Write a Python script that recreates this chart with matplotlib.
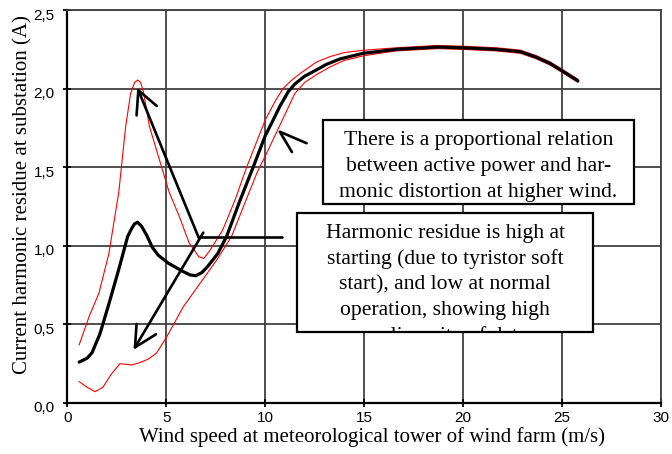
import matplotlib
matplotlib.use("Agg")
import matplotlib.pyplot as plt
from matplotlib.patches import Rectangle
from matplotlib.ticker import FuncFormatter
import matplotlib.transforms as mtransforms

# Mean harmonic current residue vs wind speed
mean_x = [0.6, 1.0, 1.25, 1.65, 2.1, 2.6, 3.05, 3.25, 3.4, 3.55, 3.75, 4.0, 4.3, 4.6, 5.1,
          5.8, 6.2, 6.5, 6.8, 7.1, 7.6, 8.05, 8.7, 9.39, 10.0, 10.4, 10.75, 11.16, 11.5,
          12.0, 12.6, 13.1, 13.8, 14.95, 16.6, 18.7, 20.0, 21.7, 22.9, 23.7, 24.4, 25.05, 25.8]
mean_y = [0.26, 0.285, 0.32, 0.44, 0.63, 0.85, 1.06, 1.11, 1.14, 1.15, 1.125, 1.07, 0.99, 0.94, 0.89,
          0.84, 0.815, 0.81, 0.83, 0.87, 0.95, 1.06, 1.28, 1.50, 1.70, 1.80, 1.89, 1.98, 2.03,
          2.08, 2.12, 2.155, 2.19, 2.225, 2.25, 2.265, 2.26, 2.25, 2.235, 2.20, 2.16, 2.11, 2.05]

# Upper envelope
upper_x = [0.6, 1.1, 1.6, 2.1, 2.6, 2.95, 3.2, 3.4, 3.55, 3.7, 3.85, 4.15, 4.65, 5.15, 5.65, 6.15,
           6.65, 6.9, 7.2, 7.85, 8.5, 9.06, 10.0, 10.5, 10.9, 11.3, 11.8, 12.6, 13.3, 14.0, 15.0,
           16.6, 18.7, 20.0, 21.7, 22.9, 23.7, 24.4, 25.05, 25.8]
upper_y = [0.37, 0.55, 0.70, 0.95, 1.34, 1.76, 1.97, 2.04, 2.055, 2.04, 1.98, 1.76, 1.55, 1.34, 1.19, 1.02,
           0.93, 0.92, 0.97, 1.10, 1.30, 1.50, 1.80, 1.92, 2.00, 2.05, 2.10, 2.17, 2.205, 2.23, 2.245,
           2.26, 2.275, 2.27, 2.26, 2.245, 2.21, 2.17, 2.12, 2.06]

# Lower envelope
lower_x = [0.6, 1.0, 1.4, 1.8, 2.2, 2.66, 3.25, 3.67, 4.1, 4.5, 5.02, 5.85, 6.7, 7.55,
           8.3, 9.06, 9.6, 10.0, 10.75, 11.5, 12.0, 12.6, 13.3, 14.0, 15.0, 16.6, 18.7, 20.0,
           21.7, 22.9, 23.7, 24.4, 25.05, 25.8]
lower_y = [0.136, 0.10, 0.072, 0.10, 0.18, 0.25, 0.242, 0.257, 0.28, 0.316, 0.42, 0.61, 0.76, 0.91,
           1.06, 1.30, 1.47, 1.57, 1.77, 1.97, 2.04, 2.09, 2.14, 2.18, 2.21, 2.24, 2.255, 2.25,
           2.24, 2.225, 2.19, 2.15, 2.10, 2.04]

# Hand-drawn pointer strokes (data coordinates): list of polylines
pointer_strokes = [
    ([6.62, 3.59], [1.058, 1.99]),          # to start-up peak
    ([4.52, 3.59, 3.50], [1.89, 1.99, 1.83]),
    ([6.62, 10.83], [1.054, 1.054]),        # leader to text box
    ([6.87, 3.42], [1.084, 0.354]),         # to low-wind region
    ([3.50, 3.42, 4.48], [0.503, 0.354, 0.437]),
    ([12.09, 10.74, 11.35], [1.653, 1.726, 1.597]),  # at the rising branch
]

x_ticks = [0, 5, 10, 15, 20, 25, 30]
y_ticks = [0.0, 0.5, 1.0, 1.5, 2.0, 2.5]

note_top = ["There is a proportional relation",
            "between active power and har-",
            "monic distortion at higher wind."]
note_bottom = ["Harmonic residue is high at",
               "starting (due to tyristor soft",
               "start), and low at normal",
               "operation, showing high",
               "nonlinearity of data."]

serif = "Liberation Serif"
sans = "Liberation Sans"
grid_col = "#404040"

fig = plt.figure(figsize=(6.72, 4.54), dpi=100)
ax = fig.add_axes([67.3 / 672, 51 / 454, 593.7 / 672, 392.9 / 454])

ax.set_xlim(0, 30)
ax.set_ylim(0, 2.5)
ax.set_xticks(x_ticks)
ax.set_yticks(y_ticks)
ax.yaxis.set_major_formatter(FuncFormatter(lambda v, p: f"{v:.1f}".replace(".", ",")))
ax.xaxis.set_major_formatter(FuncFormatter(lambda v, p: f"{int(v)}"))

ax.grid(True, color=grid_col, lw=1.3, zorder=0)
ax.set_axisbelow(True)
for s in ["top", "right"]:
    ax.spines[s].set_linewidth(1.3)
    ax.spines[s].set_color(grid_col)
for s in ["left", "bottom"]:
    ax.spines[s].set_linewidth(1.6)
    ax.spines[s].set_color("black")

ax.tick_params(axis="both", direction="inout", length=6, width=1.3, colors="black",
               labelsize=11)
ax.tick_params(axis="y", pad=6)
ax.tick_params(axis="x", pad=3)
for lab in ax.get_xticklabels() + ax.get_yticklabels():
    lab.set_fontfamily(sans)
# shift y tick labels slightly downward
offset = mtransforms.ScaledTranslation(0, -4 / 100, fig.dpi_scale_trans)
for lab in ax.get_yticklabels():
    lab.set_transform(lab.get_transform() + offset)

ax.plot(upper_x, upper_y, color="red", lw=0.8, zorder=3, clip_on=False)
ax.plot(lower_x, lower_y, color="red", lw=0.8, zorder=3, clip_on=False)
ax.plot(mean_x, mean_y, color="black", lw=2.3, zorder=4, solid_capstyle="round",
        solid_joinstyle="round")

for xs, ys in pointer_strokes:
    ax.plot(xs, ys, color="black", lw=1.9, zorder=5, solid_capstyle="round",
            solid_joinstyle="round")

ax.set_xlabel("Wind speed at meteorological tower of wind farm (m/s)",
              fontfamily=serif, fontsize=15)
ax.xaxis.set_label_coords(0.514, -0.062)
ax.set_ylabel("Current harmonic residue at substation (A)",
              fontfamily=serif, fontsize=15)
ax.yaxis.set_label_coords(-0.058, 0.53)

def px_to_ax(py):
    return (403 - py) / 392.9

# Upper text box
box1 = Rectangle((0.430, 0.5065), 0.525, 0.2135, transform=ax.transAxes,
                 facecolor="white", edgecolor="black", lw=1.6, zorder=10)
ax.add_patch(box1)
for i, line in enumerate(note_top):
    ax.text(0.6925, px_to_ax(145 + 25.8 * i), line, transform=ax.transAxes,
            ha="center", va="baseline", fontfamily=serif, fontsize=15.6, zorder=11)

# Lower text box (text clipped by the frame)
box2 = Rectangle((0.3864, 0.1815), 0.4996, 0.3015, transform=ax.transAxes,
                 facecolor="white", edgecolor="black", lw=1.6, zorder=10)
ax.add_patch(box2)
for i, line in enumerate(note_bottom):
    t = ax.text(0.6362, px_to_ax(238.3 + 25.6 * i), line, transform=ax.transAxes,
                ha="center", va="baseline", fontfamily=serif, fontsize=15.6, zorder=11)
    t.set_clip_on(True)
    t.set_clip_path(box2)

fig.savefig("out.png", dpi=100)
